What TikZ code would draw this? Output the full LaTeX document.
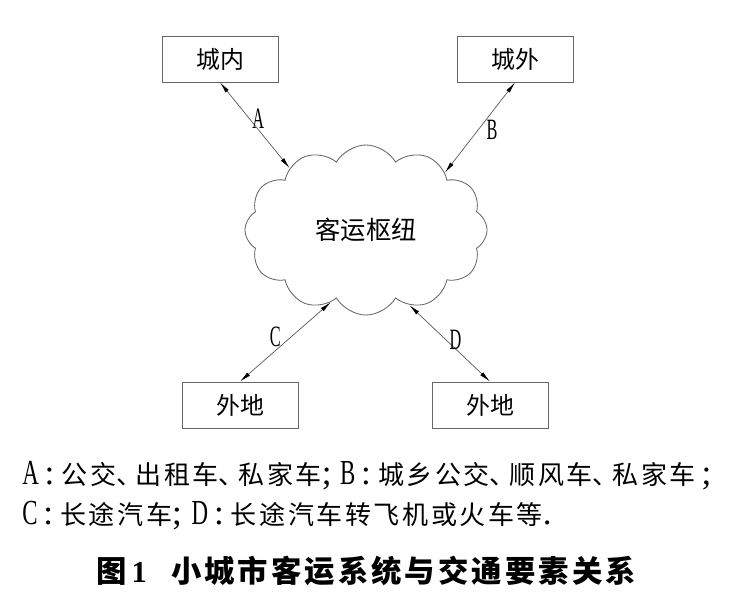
\documentclass[tikz,border=0pt]{standalone}
\usepackage{fontspec}
\setmainfont{Liberation Serif}
\newfontfamily\cjk{Noto Sans CJK SC}
\newfontfamily\cjkwide[LetterSpace=10]{Noto Sans CJK SC}
\newfontfamily\cjktitle[LetterSpace=10]{Noto Sans CJK SC}
\usetikzlibrary{shapes.symbols,arrows.meta}
\newcommand\nl[2][0.6]{\scalebox{#1}[1]{#2}}
\newcommand\ltn[1]{{\rmfamily\fontsize{25}{25}\selectfont #1}}
\newcommand\dun{\makebox[14pt][l]{、}}

\begin{document}
\begin{tikzpicture}[x=0.025cm,y=-0.025cm]
\tikzstyle{place}=[draw=black!60,line width=0.6pt,minimum width=2.9cm,minimum height=1.15cm,inner sep=0pt,font=\cjk\fontsize{17}{17}\selectfont]
\tikzstyle{hub}=[cloud,cloud puffs=12,cloud puff arc=120,cloud ignores aspect,draw=black!60,line width=0.6pt,minimum width=6.05cm,minimum height=4.25cm,font=\cjk\fontsize{18}{18}\selectfont]
\tikzstyle{link}=[draw=black!65,line width=0.5pt,{Latex[length=8pt,width=3pt,black]}-{Latex[length=8pt,width=3pt,black]}]
\tikzstyle{tag}=[font=\fontsize{21}{21}\selectfont,inner sep=2pt]
\tikzstyle{legend}=[anchor=west,inner sep=0pt,font=\cjkwide\fontsize{18.5}{18.5}\selectfont]
\useasboundingbox (0,0) rectangle (732,600);
\node[place] (inner) at (220,59) {城内};
\node[place] (outer) at (515,59) {城外};
\node[place] (farL) at (240,405) {外地};
\node[place] (farR) at (490,405) {外地};
\node[hub] (hub) at (366,230) {客运枢纽};
\path[link] (inner.south) -- node[tag,pos=0.42,right] {\nl[0.55]{A}} (hub.141);
\path[link] (outer.south) -- node[tag,pos=0.53,right=4pt] {\nl[0.55]{B}} (hub.36);
\path[link] (hub.-116) -- node[tag,pos=0.44,left=5pt] {\nl[0.55]{C}} (farL.north);
\path[link] (hub.-60) -- node[tag,pos=0.46,right] {\nl[0.55]{D}} (farR.north);
% legend under the figure
\node[legend] (lineA) at (22,476) {\ltn{\nl[0.65]{A}\,:\hspace{5pt}}公交\dun 出租车\dun 私家车\ltn{;\hspace{6pt}\nl[0.65]{B}\,:\hspace{5pt}}城乡公交\dun 顺风车\dun 私家车\ltn{\,;}};
\node[legend] (lineC) at (22,516) {\ltn{\nl[0.65]{C}\,:\hspace{5pt}}长途汽车\ltn{;\hspace{7pt}\nl[0.65]{D}\,:\hspace{5pt}}长途汽车转飞机或火车等\ltn{.}};
\node[font=\cjktitle\bfseries\fontsize{21.6}{21.6}\selectfont] (title) at (366,571) {图\,{\rmfamily\bfseries 1}\hspace{0.8em}小城市客运系统与交通要素关系};
\end{tikzpicture}
\end{document}
